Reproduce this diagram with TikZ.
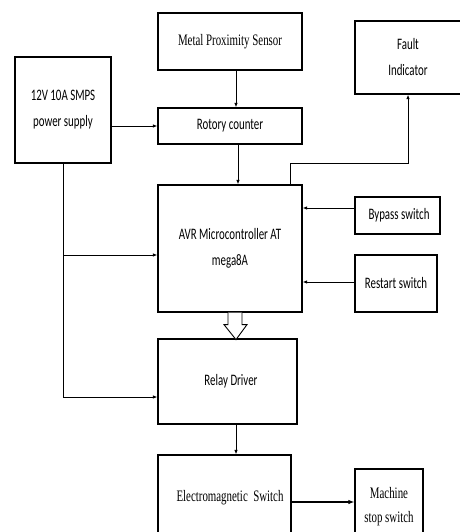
\documentclass[tikz,border=0pt]{standalone}
\usepackage{fontspec}
\usetikzlibrary{arrows.meta,calc}
\newfontfamily\cbf[FakeStretch=0.68]{Carlito}
\newfontfamily\tsf[FakeStretch=0.68]{Liberation Serif}
\begin{document}
\begin{tikzpicture}[x=1pt,y=-1pt,
  blk/.style={draw,line width=1.2pt,inner sep=0pt,align=center},
  cal/.style={font={\cbf\fontsize{16}{26}\selectfont}},
  ser/.style={font={\tsf\fontsize{16}{24}\selectfont}},
  arr/.style={line width=0.9pt,-{Latex[length=4.5pt,width=3.5pt]}},
  ln/.style={line width=0.9pt}]
\useasboundingbox (0,0) rectangle (459,532);
\node[blk,ser,minimum width=144pt,minimum height=57pt] (metal) at (230,41.5) {Metal Proximity Sensor};
\node[blk,cal,minimum width=106pt,minimum height=73pt] (fault) at (408,57.5) {Fault\\Indicator};
\node[blk,cal,minimum width=96pt,minimum height=106pt] (smps) at (63,110) {12V 10A SMPS\\power supply};
\node[blk,cal,minimum width=144pt,minimum height=36pt] (rot) at (230,126) {Rotory counter};
\node[blk,cal,minimum width=144pt,minimum height=127pt] (avr) at (230,248.5) {AVR Microcontroller AT\\mega8A};
\node[blk,cal,minimum width=85pt,minimum height=37pt] (bypass) at (397.5,215.5) {\hspace*{3pt}Bypass switch};
\node[blk,cal,minimum width=82pt,minimum height=57pt] (restart) at (396,283.5) {Restart switch};
\node[blk,cal,minimum width=139pt,minimum height=85pt] (relay) at (227.5,381.5) {\hspace*{7pt}Relay Driver};
\node[blk,ser,minimum width=133pt,minimum height=85pt] (electro) at (224.5,497.5) {\hspace*{11pt}Electromagnetic\ \ Switch};
\node[blk,ser,minimum width=68pt,minimum height=76pt] (machine) at (389,507) {Machine\\stop switch};
\coordinate (fk) at (408,163);
\coordinate (br) at (63,255);
% connectors
\draw[arr] ([xshift=6pt]metal.south) -- ([xshift=6pt]rot.north);
\draw[arr] (rot.west -| smps.east) -- (rot.west);
\draw[arr] ([xshift=8pt]rot.south) -- ([xshift=8pt]avr.north);
\draw[arr] ([xshift=60pt]avr.north) |- (fk) -- (fault.south);
\draw[arr] ([yshift=7.5pt]bypass.west) -- ([yshift=7.5pt]bypass.west -| avr.east);
\draw[arr] ([yshift=1.5pt]restart.west) -- ([yshift=1.5pt]restart.west -| avr.east);
\draw[arr] (smps.south) |- ([yshift=-15.5pt]relay.west);
\draw[arr] (br) -- (br -| avr.west);
\draw[line width=0.9pt,fill=white] ([xshift=-2pt]avr.south) -- ++(0,12) -- ++(-4,0) -- ++(12,15) -- ++(11,-15) -- ++(-5,0) -- ++(0,-12);
\draw[arr] ([xshift=8.5pt]relay.south) -- ([xshift=8.5pt]relay.south |- electro.north);
\draw[line width=1.3pt,-{Latex[length=6pt,width=4.5pt]}] ([yshift=-4.5pt]electro.east) -- ([yshift=-4.5pt]electro.east -| machine.west);
\end{tikzpicture}
\end{document}
